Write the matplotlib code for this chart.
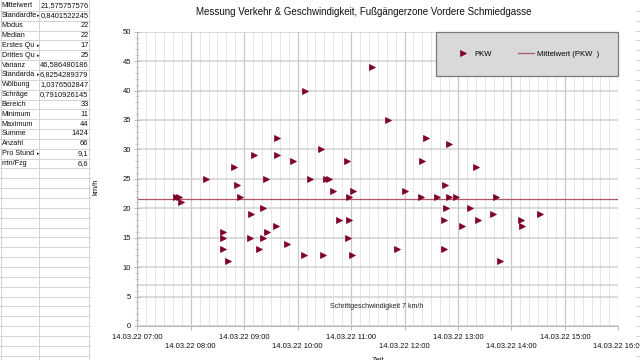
import matplotlib
matplotlib.use('Agg')
import matplotlib.pyplot as plt
from matplotlib.lines import Line2D

plt.rcParams['font.family'] = ['Liberation Sans', 'DejaVu Sans']

# ---------------- data ----------------
times = ["07:43", "07:47", "07:49", "08:17", "08:36", "08:36", "08:36", "08:42", "08:48", "08:52", "08:55",
         "09:06", "09:08", "09:11", "09:17", "09:21", "09:21", "09:24", "09:26", "09:36", "09:37", "09:37", "09:48", "09:55",
         "10:07", "10:08", "10:14", "10:26", "10:29", "10:32", "10:35", "10:40", "10:47", "10:55", "10:56", "10:58", "10:58",
         "11:01", "11:02", "11:24", "11:41", "11:52", "12:01", "12:18", "12:20", "12:24", "12:37", "12:44", "12:44", "12:46",
         "12:47", "12:50", "12:50", "12:58", "13:04", "13:13", "13:20", "13:23", "13:39", "13:43", "13:47", "14:11", "14:12", "14:32"]
speeds = [22, 22, 21, 25, 16, 15, 13, 11, 27, 24, 22,
          15, 19, 29, 13, 20, 15, 25, 16, 17, 29, 32, 14, 28,
          12, 40, 25, 30, 12, 25, 25, 23, 18, 28, 15, 22, 18,
          12, 23, 44, 35, 13, 23, 22, 28, 32, 22, 18, 13, 24,
          20, 31, 22, 22, 17, 20, 27, 18, 19, 22, 11, 18, 17, 19]
mean_value = 21.575757576
walking_speed = 7
date_label = "14.03.22"
hours = list(range(7, 17))

stat_labels = ["Mittelwert", "Standardfe", "Modus", "Median", "Erstes Qu", "Drittes Qu", "Varianz",
               "Standarda", "Wölbung", "Schräge", "Bereich", "Minimum", "Maximum", "Summe",
               "Anzahl", "Pro Stund", "min/Fzg"]
stat_truncated = [False, True, False, False, True, True, False, True, False, False, False,
                  False, False, False, False, True, False]
stat_values = ["21,575757576", "0,8401522245", "22", "22", "17", "25", "46,586480186",
               "6,8254289379", "1,0376502847", "0,7910926145", "33", "11", "44", "1424",
               "66", "9,1", "6,6"]

# ---------------- figure ----------------
W, H = 640, 360
fig = plt.figure(figsize=(6.4, 3.6), dpi=100)
fig.patch.set_facecolor('white')

def fx(x):
    return x / W

def fy(y):
    return 1 - y / H

# left spreadsheet table
grid_c = '#d4d4d4'
pitch = 9.85
off = 1.0
nrows = 37
for k in range(nrows):
    yy = off + pitch * (k + 1)
    fig.add_artist(Line2D([fx(0), fx(89.5)], [fy(yy), fy(yy)], color=grid_c, lw=0.7))
    fig.add_artist(Line2D([fx(636), fx(640)], [fy(yy), fy(yy)], color=grid_c, lw=0.7))
for xx in [0.5, 39.3, 89.3]:
    fig.add_artist(Line2D([fx(xx), fx(xx)], [0, 1], color=grid_c, lw=0.7))

for i, (lab, val, tr) in enumerate(zip(stat_labels, stat_values, stat_truncated)):
    yc = off + pitch * (i + 0.5)
    fig.text(fx(1.5), fy(yc), lab, fontsize=5.2, va='center', ha='left', color='#111111')
    if tr:
        fig.text(fx(39.2), fy(yc), "\u25b8", fontsize=3.6, va='center', ha='right',
                 color='#222222', family=['DejaVu Sans'])
    fig.text(fx(88.5), fy(yc), val, fontsize=5.4, va='center', ha='right', color='#111111')

# chart axes
ax_l, ax_r, ax_t, ax_b = 137.3, 618.3, 31.7, 326.0
ax = fig.add_axes([fx(ax_l), fy(ax_b), fx(ax_r - ax_l), (ax_b - ax_t) / H])
ax.set_facecolor('white')

tx = [int(t[:2]) + int(t[3:]) / 60 for t in times]

ax.set_xlim(hours[0], hours[-1])
ax.set_ylim(0, 50)

# grid
minor_x = [h + m / 60 for h in hours[:-1] for m in range(10, 60, 10)]
ax.set_xticks(hours)
ax.set_xticks(minor_x, minor=True)
ax.set_yticks(range(0, 51, 5))
ax.set_yticks(range(0, 51, 1), minor=True)
ax.grid(which='major', axis='x', color='#c8c8c8', lw=0.9)
ax.grid(which='minor', axis='x', color='#e6e6e6', lw=0.7)
ax.grid(which='major', axis='y', color='#d2d2d2', lw=1.1)
ax.set_axisbelow(True)

# walking-speed reference line
ax.axhline(walking_speed, color='#d2d2d2', lw=1.1, zorder=1)
ax.text(0.5 * (hours[0] + hours[-1]) - 0.03, 3.3, "Schrittgeschwindigkeit 7 km/h",
        fontsize=5, ha='center', va='center', color='#222222')

# mean line and points
ax.axhline(mean_value, color='#b0566c', lw=0.9, zorder=2, label='Mittelwert (PKW  )')
ax.plot(tx, speeds, linestyle='none', marker='>', ms=4.4, color='#800028',
        markeredgecolor='#800028', markeredgewidth=0.5, zorder=3, label='PKW')

# ticks
xlabels = []
for h in hours:
    s = f"{date_label} {h:02d}:00"
    xlabels.append(s if h % 2 == 1 else "\n" + s)
ax.set_xticklabels(xlabels)
for lbl in ax.get_xticklabels():
    lbl.set_linespacing(1.4)
ax.tick_params(axis='x', which='major', length=3, width=0.6, color='#b0b0b0',
               labelsize=5.5, pad=2.5, labelcolor='#111111')
ax.tick_params(axis='x', which='minor', length=0)
ax.tick_params(axis='y', which='major', length=4, width=0.6, color='#b0b0b0', direction='inout',
               labelsize=5.5, pad=2.5, labelcolor='#111111')
ax.tick_params(axis='y', which='minor', length=3, width=0.5, color='#c0c0c0', direction='inout')

for side in ['top', 'right']:
    ax.spines[side].set_visible(False)
for side in ['left', 'bottom']:
    ax.spines[side].set_color('#b8b8b8')
    ax.spines[side].set_linewidth(0.8)

# legend
handles, labels = ax.get_legend_handles_labels()
leg = ax.legend(handles[::-1], labels[::-1], loc='upper right', ncol=2,
                bbox_to_anchor=(0.621, 0.0, 0.379, 1.0), mode='expand',
                fontsize=5.5, frameon=True, fancybox=False, borderpad=2.45,
                handlelength=2.2, handletextpad=0.4, columnspacing=1.0, borderaxespad=0)
leg.get_frame().set_facecolor('#d9d9d9')
leg.get_frame().set_edgecolor('#7a7a7a')
leg.get_frame().set_linewidth(0.9)
leg.get_frame().set_alpha(1)

# title and axis labels
fig.text(fx(364), fy(12), "Messung Verkehr & Geschwindigkeit, Fußgängerzone Vordere Schmiedgasse",
         fontsize=7, ha='center', va='center', color='#111111')
fig.text(fx(96), fy(187), "km/h", fontsize=5.5, rotation=90, ha='center', va='center', color='#111111')
fig.text(fx(378), fy(357), "Zeit", fontsize=5.5, ha='center', va='top', color='#111111')

fig.savefig('out.png', dpi=100)
